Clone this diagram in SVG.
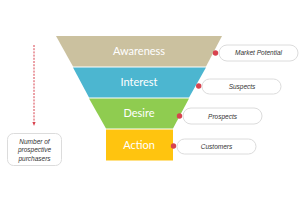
<svg xmlns="http://www.w3.org/2000/svg" width="300" height="200" viewBox="0 0 300 200">
<defs>
<style>
.band{font-family:Lato,"Liberation Sans",sans-serif;font-size:11px;fill:#fff;text-anchor:middle}
.pill{fill:#fff;stroke:#dcdcdc;stroke-width:1}
.lbl{font-family:"Liberation Sans",Arial,sans-serif;font-style:italic;font-size:6.5px;fill:#333;text-anchor:middle}
.dot{fill:#d8434f}
</style>
<marker id="ah" viewBox="0 0 10 10" refX="5" refY="5" markerWidth="4" markerHeight="4" orient="auto">
<path d="M0,1 L10,5 L0,9 z" fill="#d8434f"/>
</marker>
</defs>
<rect width="300" height="200" fill="#fff"/>
<g id="awareness">
<polygon points="56,36 222,36 206,66.5 73,66.5" fill="#cbc19f"/>
<text class="band" x="139" y="55">Awareness</text>
</g>
<g id="interest">
<polygon points="73,67.5 206,67.5 189,97.5 89,97.5" fill="#4cb6d0"/>
<text class="band" x="139" y="86">Interest</text>
</g>
<g id="desire">
<polygon points="89,98.5 189,98.5 173,128.5 106,128.5" fill="#8fcc50"/>
<text class="band" x="139" y="117">Desire</text>
</g>
<g id="action">
<rect x="106" y="129.5" width="67" height="31" fill="#ffc40f"/>
<text class="band" x="139" y="149">Action</text>
</g>
<g id="market-potential">
<rect class="pill" x="219" y="45" width="79" height="16" rx="8"/>
<circle class="dot" cx="215.5" cy="53" r="2.7"/>
<text class="lbl" x="258.5" y="55.3">Market Potential</text>
</g>
<g id="suspects">
<rect class="pill" x="202" y="79" width="79" height="15" rx="7.5"/>
<circle class="dot" cx="198.7" cy="86" r="2.7"/>
<text class="lbl" x="242" y="88.5">Suspects</text>
</g>
<g id="prospects">
<rect class="pill" x="183" y="108" width="79" height="16" rx="8"/>
<circle class="dot" cx="179.5" cy="116" r="2.7"/>
<text class="lbl" x="222.5" y="118.5">Prospects</text>
</g>
<g id="customers">
<rect class="pill" x="177" y="139" width="79" height="15" rx="7.5"/>
<circle class="dot" cx="173.5" cy="146" r="2.7"/>
<text class="lbl" x="216.5" y="148.5">Customers</text>
</g>
<g id="purchasers">
<rect class="pill" x="7.5" y="133.5" width="54" height="32" rx="6"/>
<text class="lbl" x="34.5" y="144">Number of</text>
<text class="lbl" x="34.5" y="152">prospective</text>
<text class="lbl" x="34.5" y="160.5">purchasers</text>
</g>
<g id="connectors">
<line x1="34" y1="45" x2="34" y2="124" stroke="#d8434f" stroke-width="1" stroke-dasharray="2,1.2" marker-end="url(#ah)"/>
</g>
</svg>
